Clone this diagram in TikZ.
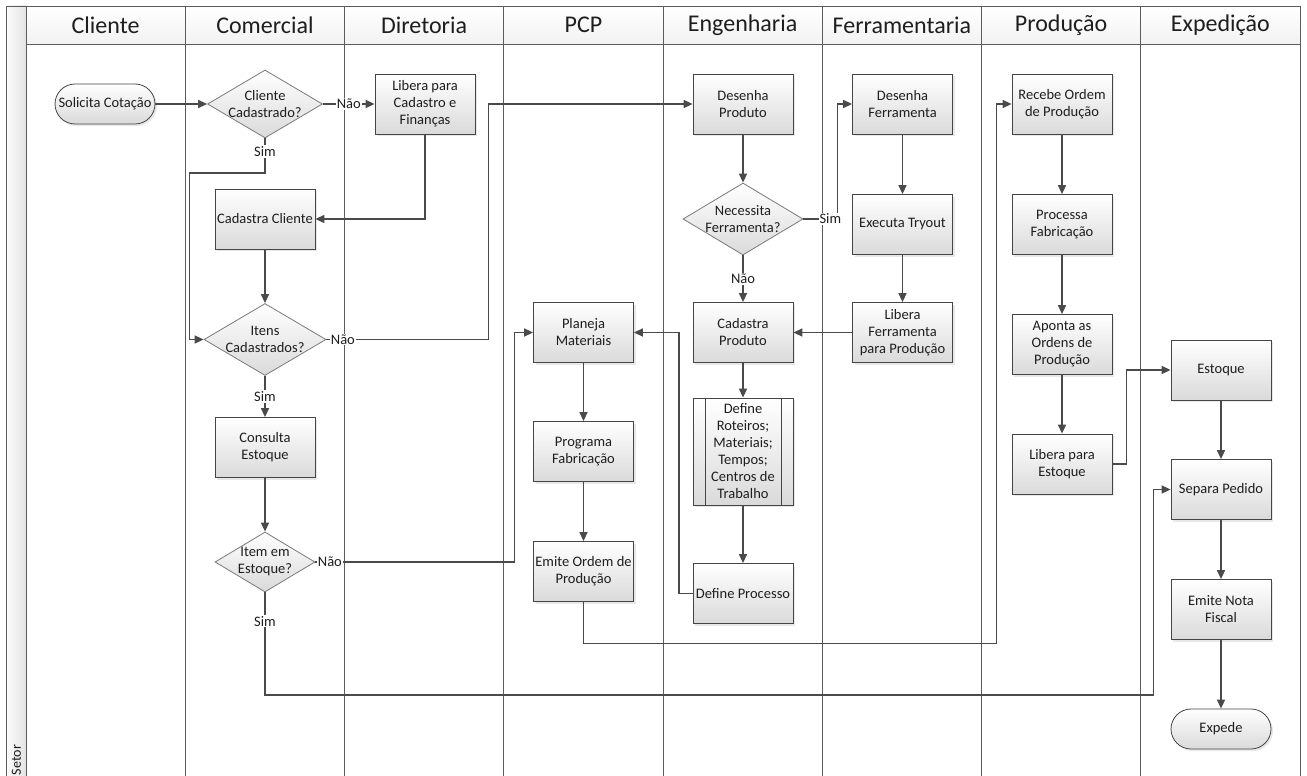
\documentclass[tikz,border=0pt]{standalone}
\usepackage{fontspec}
\setmainfont{Carlito}
\usetikzlibrary{shapes.geometric, arrows.meta, shadows}

\definecolor{lanec}{HTML}{5C5C5C}
\definecolor{boxc}{HTML}{454545}
\definecolor{decc}{HTML}{7A7A7A}
\definecolor{boxg}{HTML}{DADADA}
\definecolor{linec}{HTML}{4A4A4A}
\definecolor{txtc}{HTML}{1E1E1E}

\newcommand\flowtextfont{\fontsize{14.5}{17}\selectfont}
\newcommand\lanetitlefont{\fontsize{24}{28}\selectfont}

\tikzset{
  lane/.style={draw=lanec, line width=0.9pt},
  proc/.style={rectangle, draw=boxc, line width=0.8pt,
    top color=white, bottom color=boxg,
    minimum width=100pt, minimum height=60pt, inner sep=1pt,
    align=center, font=\flowtextfont, text=txtc,
    drop shadow={shadow xshift=2pt, shadow yshift=-2pt, opacity=0.18}},
  term/.style={proc, rounded corners=20pt, minimum height=40pt},
  dec/.style={diamond, draw=decc, line width=0.8pt,
    top color=white, bottom color=boxg, inner sep=0pt},
  dtext/.style={align=center, font=\flowtextfont, text=txtc, inner sep=0pt},
  flow/.style={draw=linec, line width=1.5pt,
    -{Triangle[length=9pt, width=8pt]}},
  tag/.style={fill=white, inner sep=1pt, font=\flowtextfont, text=txtc},
  lanetitle/.style={font=\lanetitlefont, text=txtc},
}

\begin{document}
\begin{tikzpicture}[x=1pt, y=-1pt]
\useasboundingbox (0,0) rectangle (1307,776);

% pool frame, header band and side strip
\shade[left color=gray!3, right color=gray!22] (6.5,6) rectangle (26,776);
\shade[top color=white, bottom color=gray!10] (26,6) rectangle (1300,44);
\draw[lane] (6.5,776) -- (6.5,6) -- (1300,6);
\draw[lane] (26,44) -- (1300,44);
\foreach \x in {26,185.25,344.5,503.75,663,822.25,981.5,1140.75,1300}
  \draw[lane] (\x,6) -- (\x,776);

\node[rotate=90, font=\fontsize{14}{16}\selectfont, text=txtc] (setor) at (16.5,760) {Setor};

% lane titles
\node[lanetitle] (hCli)  at (105.6,25)  {Cliente};
\node[lanetitle] (hCom)  at (264.9,25)  {Comercial};
\node[lanetitle] (hDir)  at (424.1,25)  {Diretoria};
\node[lanetitle] (hPcp)  at (583.4,25)  {PCP};
\node[lanetitle] (hEng)  at (742.6,25)  {Engenharia};
\node[lanetitle] (hFer)  at (901.9,25)  {Ferramentaria};
\node[lanetitle] (hPro)  at (1061.1,25) {Produção};
\node[lanetitle] (hExp)  at (1220.4,25) {Expedição};

% Cliente / Comercial / Diretoria
\node[term] (solic) at (105,104) {Solicita Cotação};
\node[dec, minimum width=115pt, minimum height=68pt,
      label={[name=t1, dtext]center:{Cliente\\Cadastrado?}}] (d1) at (265,104) {};
\node[proc] (libC) at (425,104) {Libera para\\Cadastro e\\Finanças};
\node[proc] (cadC) at (265,219) {Cadastra Cliente};
\node[dec, minimum width=122pt, minimum height=72pt,
      label={[name=t2, dtext]center:{Itens\\Cadastrados?}}] (d2) at (265,339.5) {};
\node[proc] (cons) at (265,447.5) {Consulta\\Estoque};
\node[dec, minimum width=100pt, minimum height=60pt,
      label={[name=t3, dtext]center:{Item em\\Estoque?}}] (d3) at (265,562) {};

% PCP
\node[proc] (plan) at (583.5,332.5) {Planeja\\Materiais};
\node[proc] (prog) at (583.5,451.5) {Programa\\Fabricação};
\node[proc] (emit) at (583.5,571.5) {Emite Ordem de\\Produção};

% Engenharia
\node[proc] (desP) at (743,104) {Desenha\\Produto};
\node[dec, minimum width=120pt, minimum height=72pt,
      label={[name=t4, dtext]center:{Necessita\\Ferramenta?}}] (d4) at (743,219) {};
\node[proc] (cadP) at (743,332.5) {Cadastra\\Produto};
\node[proc, minimum height=107pt] (defR) at (743,451.5)
  {Define\\Roteiros;\\Materiais;\\Tempos;\\Centros de\\Trabalho};
\draw[boxc, line width=0.8pt]
  ([xshift=12.5pt]defR.north west) -- ([xshift=12.5pt]defR.south west)
  ([xshift=-12.5pt]defR.north east) -- ([xshift=-12.5pt]defR.south east);
\node[proc] (defP) at (743,593.5) {Define Processo};

% Ferramentaria
\node[proc] (desF) at (902.5,104) {Desenha\\Ferramenta};
\node[proc] (exec) at (902.5,224.5) {Executa Tryout};
\node[proc] (libF) at (902.5,332.5) {Libera\\Ferramenta\\para Produção};

% Produção
\node[proc] (rec)   at (1062,104)   {Recebe Ordem\\de Produção};
\node[proc] (procF) at (1062,224.5) {Processa\\Fabricação};
\node[proc] (apon)  at (1062,344.5) {Aponta as\\Ordens de\\Produção};
\node[proc] (libE)  at (1062,464)   {Libera para\\Estoque};

% Expedição
\node[proc] (est)  at (1221,370)   {Estoque};
\node[proc] (sep)  at (1221,489.5) {Separa Pedido};
\node[proc] (nota) at (1221,609.5) {Emite Nota\\Fiscal};
\node[term] (exped) at (1221,729)  {Expede};

% connectors
\draw[flow] (solic) -- (d1);
\draw[flow] (d1) -- node[tag] (n1) {Não} (libC);
\draw[flow] (d1.south) -- node[tag, pos=0.38] (s1) {Sim} ++(0,34.5)
  -| (189.5,339.5) -- (d2.west);
\draw[flow] (libC.south) |- (cadC.east);
\draw[flow] (cadC) -- (d2);
\draw[flow] (d2.east) -- ++(16.5,0) node[tag] (n2) {Não}
  -- (488.5,339.5) |- (desP.west);
\draw[flow] (d2) -- node[tag] (s2) {Sim} (cons);
\draw[flow] (cons) -- (d3);
\draw[flow] (d3.east) -- ++(14.5,0) node[tag] (n3) {Não}
  -- (514.5,562) |- (plan.west);
\draw[flow] (d3.south) -- ++(0,29) node[tag] (s3) {Sim}
  -- (265,695) -| (1153.5,489.5) -- (sep.west);

\draw[flow] (desP) -- (d4);
\draw[flow] (d4.east) -- node[tag, pos=0.79] (s4) {Sim} (837.5,219) |- (desF.west);
\draw[flow] (d4) -- node[tag] (n4) {Não} (cadP);
\draw[flow] (cadP) -- (defR);
\draw[flow] (defR) -- (defP);
\draw[flow] (defP.west) -- (679,593.5) |- (plan.east);

\draw[flow] (plan) -- (prog);
\draw[flow] (prog) -- (emit);
\draw[flow] (emit.south) -- (583.5,643.5) -| (996.5,104) -- (rec.west);

\draw[flow] (desF) -- (exec);
\draw[flow] (exec) -- (libF);
\draw[flow] (libF) -- (cadP);

\draw[flow] (rec) -- (procF);
\draw[flow] (procF) -- (apon);
\draw[flow] (apon) -- (libE);
\draw[flow] (libE.east) -- (1126.5,464) |- (est.west);

\draw[flow] (est) -- (sep);
\draw[flow] (sep) -- (nota);
\draw[flow] (nota) -- (exped);
\end{tikzpicture}
\end{document}
